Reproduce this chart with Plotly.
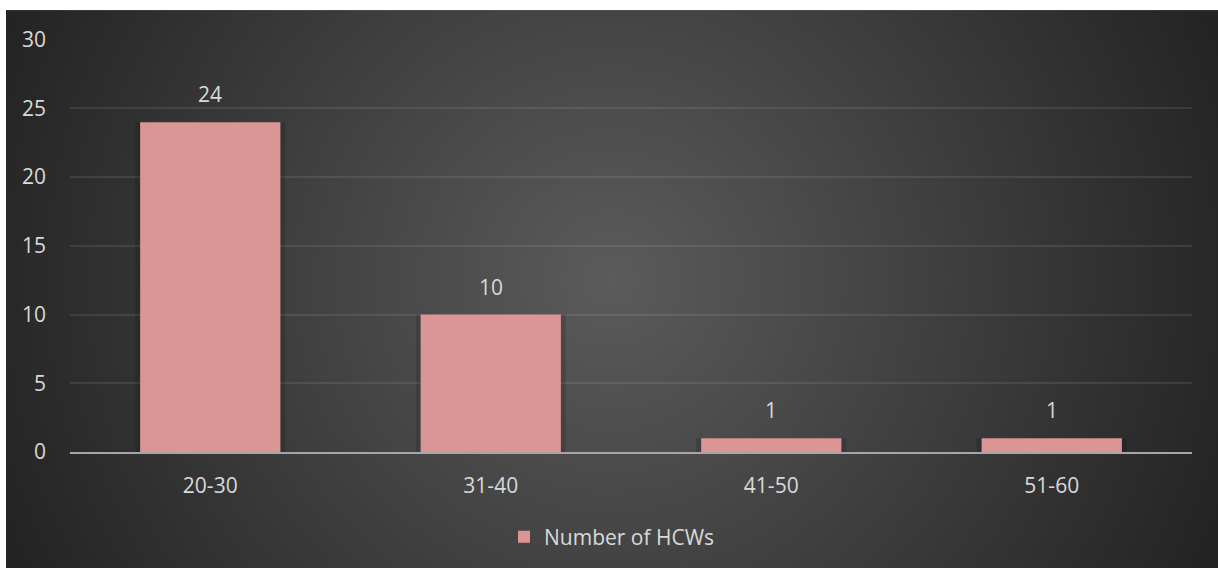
import base64
import plotly.graph_objects as go

# Age groups of health-care workers and their counts
age_groups = ["20-30", "31-40", "41-50", "51-60"]
hcw_counts = [24, 10, 1, 1]
series_name = "Number of HCWs"
y_ticks = [0, 5, 10, 15, 20, 25, 30]

BAR_COLOR = "#DA9694"
TEXT_COLOR = "#D9D9D9"
FONT = "Open Sans"
FSIZE = 21

W, H = 1218, 568
L, R, T, B = 70, 26, 39, 115
plot_w, plot_h = W - L - R, H - T - B

# Dark radial-gradient backdrop for the chart area
svg = (
    '<svg xmlns="http://www.w3.org/2000/svg" width="1212" height="560" '
    'viewBox="0 0 1212 560" preserveAspectRatio="none">'
    '<defs><radialGradient id="g" gradientUnits="userSpaceOnUse" '
    'cx="605" cy="270" r="650">'
    '<stop offset="0%" stop-color="#5b5b5b"/>'
    '<stop offset="100%" stop-color="#242424"/>'
    '</radialGradient></defs>'
    '<rect width="1212" height="560" fill="url(#g)"/></svg>'
)
bg_uri = "data:image/svg+xml;base64," + base64.b64encode(svg.encode()).decode()

fig = go.Figure()
# soft drop shadow behind each column
fig.add_trace(go.Bar(
    x=age_groups, y=hcw_counts, width=0.535,
    marker=dict(color="rgba(0,0,0,0.14)", line=dict(width=0)),
    showlegend=False, hoverinfo="skip",
))
fig.add_trace(go.Bar(
    x=age_groups,
    y=hcw_counts,
    width=0.5,
    name=series_name,
    marker=dict(color=BAR_COLOR, line=dict(width=0)),
    showlegend=True,
))

# Value labels above each bar
for cat, val in zip(age_groups, hcw_counts):
    fig.add_annotation(
        x=cat, y=val, text=str(val), showarrow=False,
        yanchor="bottom", yshift=12,
        font=dict(family=FONT, size=FSIZE, color=TEXT_COLOR),
    )

fig.add_layout_image(
    source=bg_uri, xref="paper", yref="paper",
    x=(6 - L) / plot_w, y=1 + (T - 10) / plot_h,
    sizex=(W - 6) / plot_w, sizey=(H - 8) / plot_h,
    xanchor="left", yanchor="top", sizing="stretch", layer="below",
)

fig.update_layout(
    width=W, height=H,
    margin=dict(l=L, r=R, t=T, b=B),
    paper_bgcolor="white",
    plot_bgcolor="rgba(0,0,0,0)",
    barmode="overlay",
    font=dict(family=FONT, size=FSIZE, color=TEXT_COLOR),
    legend=dict(
        orientation="h", x=(612 - L) / plot_w, xanchor="center",
        y=-(537 - (T + plot_h)) / plot_h, yanchor="middle",
        font=dict(family=FONT, size=FSIZE, color=TEXT_COLOR),
        bgcolor="rgba(0,0,0,0)", itemwidth=30,
    ),
    xaxis=dict(
        showgrid=False, showline=True, linecolor="#A6A6A6", linewidth=2,
        ticks="", ticklabelstandoff=14,
        tickfont=dict(family=FONT, size=FSIZE, color=TEXT_COLOR),
    ),
    yaxis=dict(
        range=[0, 30.05], tickvals=y_ticks, showgrid=True,
        gridcolor="rgba(255,255,255,0.09)", gridwidth=2, zeroline=False,
        showline=False, ticks="", ticklabelstandoff=23,
        tickfont=dict(family=FONT, size=FSIZE, color=TEXT_COLOR),
    ),
)

fig.write_html("out.html")
